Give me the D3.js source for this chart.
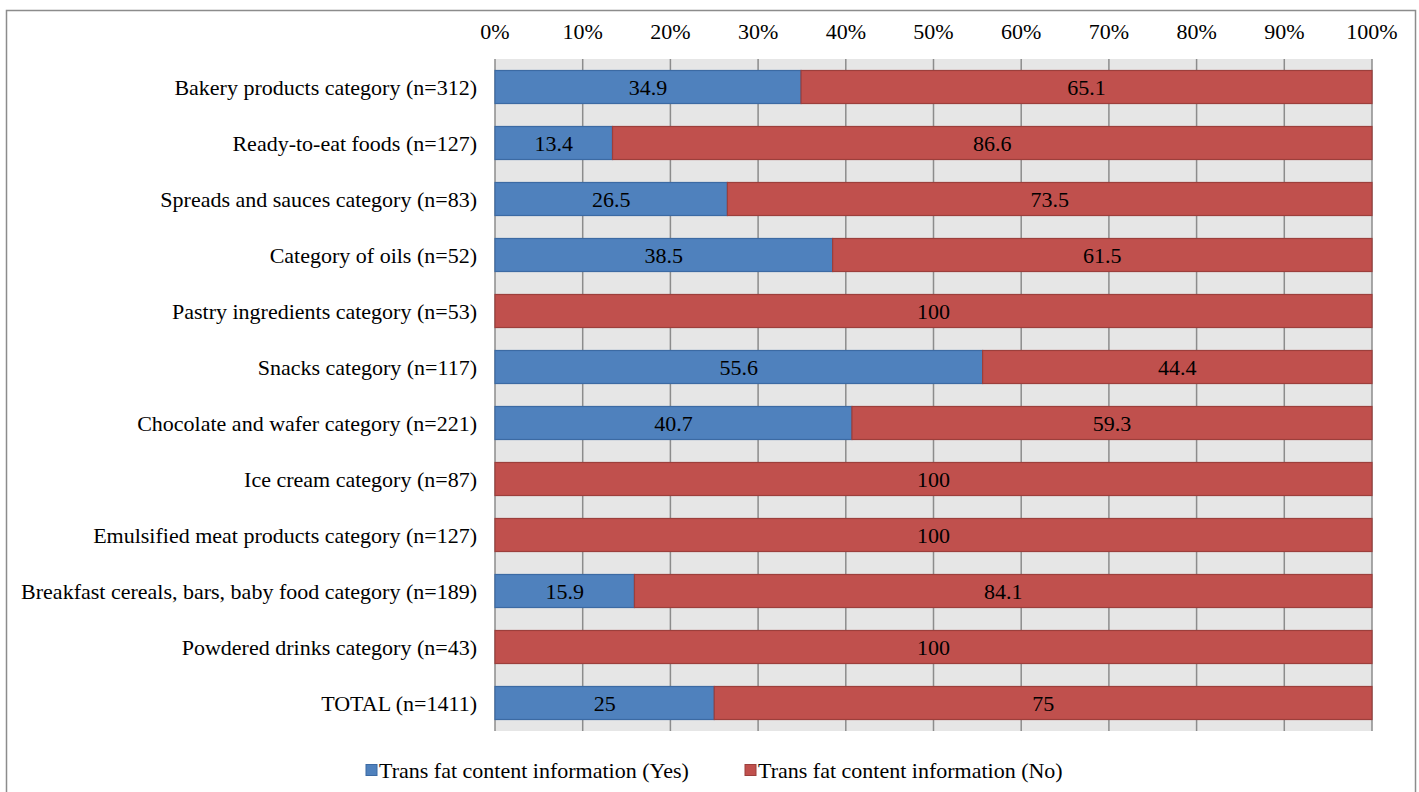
<!DOCTYPE html>
<html>
<head>
<meta charset="utf-8">
<script src="https://cdn.jsdelivr.net/npm/d3@7"></script>
<style>
  html, body { margin: 0; padding: 0; background: #fff; }
  svg { display: block; font-family: "Liberation Serif", "Times New Roman", serif; }
</style>
</head>
<body>
<div id="chart"></div>
<script>
/* ---------- data ---------- */
const categories = [
  "Bakery products category (n=312)",
  "Ready-to-eat foods (n=127)",
  "Spreads and sauces category (n=83)",
  "Category of oils (n=52)",
  "Pastry ingredients category (n=53)",
  "Snacks category (n=117)",
  "Chocolate and wafer category (n=221)",
  "Ice cream category (n=87)",
  "Emulsified meat products category (n=127)",
  "Breakfast cereals, bars, baby food category (n=189)",
  "Powdered drinks category (n=43)",
  "TOTAL (n=1411)"
];
const yesValues = [34.9, 13.4, 26.5, 38.5, 0, 55.6, 40.7, 0, 0, 15.9, 0, 25];
const noValues = [65.1, 86.6, 73.5, 61.5, 100, 44.4, 59.3, 100, 100, 84.1, 100, 75];
const seriesNames = ["Trans fat content information (Yes)", "Trans fat content information (No)"];
const tickValues = [0, 10, 20, 30, 40, 50, 60, 70, 80, 90, 100];

/* ---------- config ---------- */
const WIDTH = 1419, HEIGHT = 792;
const FONT = 22;
const colors = ["#4f81bd", "#c0504d"];
const strokes = ["#3c6aa3", "#9c3f3c"];
const margin = { left: 495, right: 47, top: 59, bottom: 61 };

const svg = d3.select("#chart").append("svg")
  .attr("width", WIDTH).attr("height", HEIGHT);

// outer frame
svg.append("rect")
  .attr("x", 6.5).attr("y", 10.5)
  .attr("width", 1409).attr("height", 800)
  .attr("fill", "#fff").attr("stroke", "#8c8c8c").attr("stroke-width", 1.5);

const x = d3.scaleLinear().domain([0, 100]).range([margin.left, WIDTH - margin.right]);
const y = d3.scaleBand().domain(categories)
  .range([margin.top, HEIGHT - margin.bottom])
  .paddingInner(0.41).paddingOuter(0.205);

// plot background
svg.append("rect")
  .attr("x", x(0)).attr("y", margin.top)
  .attr("width", x(100) - x(0)).attr("height", HEIGHT - margin.bottom - margin.top)
  .attr("fill", "#e6e6e6");

// gridlines
svg.append("g").selectAll("line").data(tickValues).join("line")
  .attr("x1", d => x(d)).attr("x2", d => x(d))
  .attr("y1", margin.top).attr("y2", HEIGHT - margin.bottom)
  .attr("stroke", "#8c8c8c").attr("stroke-width", 1.5);

// top axis labels
svg.append("g").selectAll("text").data(tickValues).join("text")
  .attr("x", d => x(d)).attr("y", 39)
  .attr("text-anchor", "middle")
  .attr("font-size", FONT)
  .attr("fill", "#000")
  .text(d => d + "%");

// stacked bars
const stackData = categories.map((c, i) => ({ cat: c, yes: yesValues[i], no: noValues[i] }));
const stack = d3.stack().keys(["yes", "no"])(stackData);

const layers = svg.append("g").selectAll("g").data(stack).join("g")
  .attr("fill", (d, i) => colors[i])
  .attr("stroke", (d, i) => strokes[i]);

layers.selectAll("rect").data(d => d.filter(s => s[1] - s[0] > 0)).join("rect")
  .attr("x", d => x(d[0]))
  .attr("y", d => y(d.data.cat))
  .attr("width", d => x(d[1]) - x(d[0]))
  .attr("height", y.bandwidth())
  .attr("stroke-width", 1.2);

// value labels
const labels = svg.append("g");
stack.forEach(layer => {
  labels.selectAll(null).data(layer.filter(s => s[1] - s[0] > 0)).join("text")
    .attr("x", d => (x(d[0]) + x(d[1])) / 2)
    .attr("y", d => y(d.data.cat) + y.bandwidth() / 2)
    .attr("dy", "0.35em")
    .attr("text-anchor", "middle")
    .attr("font-size", FONT)
    .text(d => d3.format(".3~f")(d[1] - d[0]));
});

// category labels
svg.append("g").selectAll("text").data(categories).join("text")
  .attr("x", margin.left - 18)
  .attr("y", d => y(d) + y.bandwidth() / 2)
  .attr("dy", "0.35em")
  .attr("text-anchor", "end")
  .attr("font-size", FONT)
  .text(d => d);

// legend
const legendX = [366, 745];
const legend = svg.append("g").selectAll("g").data(seriesNames).join("g")
  .attr("transform", (d, i) => `translate(${legendX[i]}, 770)`);
legend.append("rect")
  .attr("x", 0).attr("y", -5.5).attr("width", 11).attr("height", 11)
  .attr("fill", (d, i) => colors[i]).attr("stroke", (d, i) => strokes[i]);
legend.append("text")
  .attr("x", 13).attr("dy", "0.35em")
  .attr("font-size", FONT)
  .text(d => d);
</script>
</body>
</html>
